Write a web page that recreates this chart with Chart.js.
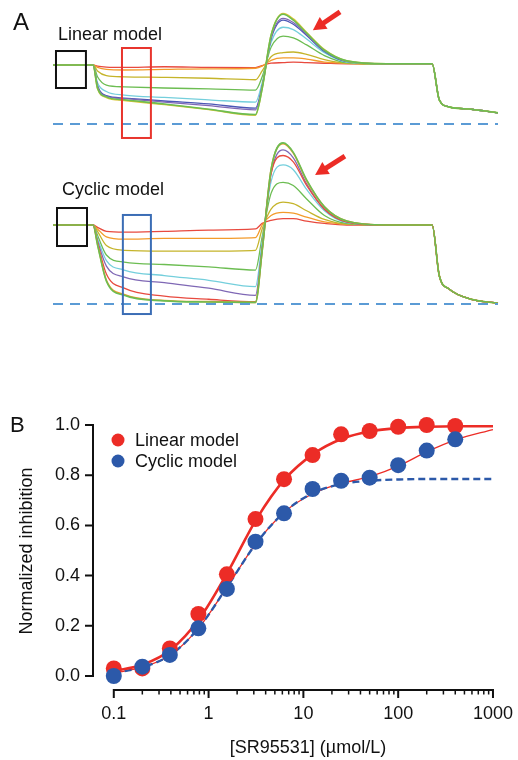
<!DOCTYPE html>
<html>
<head>
<meta charset="utf-8">
<script src="https://cdn.jsdelivr.net/npm/chart.js@4.4.1/dist/chart.umd.min.js"></script>
<style>
  body { margin: 0; background: #fff; }
  #wrap { position: relative; width: 518px; height: 760px; }
  canvas { position: absolute; left: 0; }
</style>
</head>
<body>
<div id="wrap">
  <canvas id="linChart" width="518" height="145" style="top:0px"></canvas>
  <canvas id="cycChart" width="518" height="185" style="top:135px"></canvas>
  <canvas id="doseChart" width="518" height="430" style="top:330px"></canvas>
</div>
<script>
// ---- panel A: current traces (time in % of sweep, current normalised: 1 = baseline, 0 = dashed line)
const tA = [0, 9, 10, 12, 16, 25, 35, 45.5, 47, 49, 51.7, 54, 57, 61, 66, 75, 85.2, 86.8, 89, 94, 100];

const linRed    = [1, 1, 0.98, 0.965, 0.96, 0.97, 0.96, 0.955, 0.99, 1.03, 1.04, 1.05, 1.04, 1.03, 1.02, 1.02, 1.02, 0.41, 0.29, 0.25, 0.19];
const linOrange = [1, 1, 0.96, 0.925, 0.915, 0.925, 0.935, 0.945, 0.98, 1.08, 1.12, 1.12, 1.1, 1.05, 1.03, 1.02, 1.02, 0.41, 0.29, 0.25, 0.19];
const linOlive  = [1, 1, 0.9, 0.82, 0.8, 0.79, 0.775, 0.75, 0.9, 1.14, 1.21, 1.22, 1.18, 1.09, 1.03, 1.02, 1.02, 0.41, 0.29, 0.25, 0.19];
const linGreen  = [1, 1, 0.8, 0.66, 0.63, 0.61, 0.595, 0.575, 0.8, 1.3, 1.49, 1.46, 1.34, 1.16, 1.04, 1.02, 1.02, 0.41, 0.29, 0.25, 0.19];
const linCyan   = [1, 1, 0.7, 0.55, 0.49, 0.45, 0.41, 0.37, 0.7, 1.38, 1.64, 1.6, 1.44, 1.21, 1.05, 1.02, 1.02, 0.41, 0.29, 0.25, 0.19];
const linBlue   = [1, 1, 0.65, 0.48, 0.44, 0.39, 0.34, 0.27, 0.64, 1.44, 1.76, 1.69, 1.5, 1.23, 1.06, 1.02, 1.02, 0.41, 0.29, 0.25, 0.19];
const linPurple = [1, 1, 0.64, 0.47, 0.43, 0.37, 0.31, 0.24, 0.62, 1.46, 1.79, 1.72, 1.52, 1.24, 1.06, 1.02, 1.02, 0.41, 0.29, 0.25, 0.19];
const linDeepA  = [1, 1, 0.6, 0.45, 0.4, 0.33, 0.245, 0.15, 0.6, 1.5, 1.87, 1.78, 1.55, 1.26, 1.07, 1.02, 1.02, 0.41, 0.29, 0.25, 0.19];
const linDeepB  = [1, 1, 0.61, 0.46, 0.41, 0.34, 0.25, 0.16, 0.6, 1.5, 1.86, 1.76, 1.54, 1.25, 1.07, 1.02, 1.02, 0.41, 0.29, 0.25, 0.19];

const cycRed    = [1, 1, 0.97, 0.92, 0.91, 0.92, 0.935, 0.95, 1.02, 1.06, 1.08, 1.08, 1.05, 1.02, 1.0, 1.0, 1.0, 0.36, 0.19, 0.06, 0.01];
const cycOrange = [1, 1, 0.95, 0.85, 0.82, 0.83, 0.83, 0.84, 1.0, 1.12, 1.16, 1.15, 1.1, 1.04, 1.01, 1.0, 1.0, 0.36, 0.19, 0.06, 0.01];
const cycOlive  = [1, 1, 0.92, 0.74, 0.68, 0.67, 0.67, 0.68, 0.95, 1.2, 1.29, 1.27, 1.18, 1.07, 1.01, 1.0, 1.0, 0.36, 0.19, 0.06, 0.01];
const cycGreen  = [1, 1, 0.87, 0.62, 0.53, 0.5, 0.47, 0.43, 0.85, 1.4, 1.54, 1.5, 1.33, 1.12, 1.02, 1.0, 1.0, 0.36, 0.19, 0.06, 0.01];
const cycCyan   = [1, 1, 0.83, 0.55, 0.43, 0.36, 0.3, 0.22, 0.78, 1.55, 1.76, 1.7, 1.45, 1.18, 1.03, 1.0, 1.0, 0.36, 0.19, 0.06, 0.01];
const cycPurple = [1, 1, 0.8, 0.48, 0.34, 0.27, 0.2, 0.11, 0.72, 1.65, 1.95, 1.85, 1.52, 1.2, 1.04, 1.0, 1.0, 0.36, 0.19, 0.06, 0.01];
const cycBlue   = [1, 1, 0.78, 0.38, 0.2, 0.1, 0.06, 0.03, 0.68, 1.65, 1.88, 1.8, 1.5, 1.2, 1.04, 1.0, 1.0, 0.36, 0.19, 0.06, 0.01];
const cycDeepA  = [1, 1, 0.76, 0.3, 0.12, 0.045, 0.03, 0.02, 0.67, 1.7, 2.03, 1.91, 1.56, 1.23, 1.05, 1.0, 1.0, 0.36, 0.19, 0.06, 0.01];
const cycDeepB  = [1, 1, 0.75, 0.29, 0.11, 0.04, 0.025, 0.02, 0.67, 1.7, 2.04, 1.92, 1.57, 1.23, 1.05, 1.0, 1.0, 0.36, 0.19, 0.06, 0.01];

// ---- panel B: dose-response
const conc       = [0.1, 0.2, 0.39, 0.78, 1.56, 3.125, 6.25, 12.5, 25, 50, 100, 200, 400];
const linearInh  = [0.03, 0.03, 0.11, 0.247, 0.405, 0.625, 0.784, 0.88, 0.963, 0.976, 0.993, 1.0, 0.996];
const cyclicInh  = [0.0, 0.037, 0.084, 0.19, 0.347, 0.535, 0.648, 0.745, 0.778, 0.79, 0.84, 0.898, 0.943];
const fitConc    = [0.1, 0.2, 0.4, 0.8, 1.6, 3.2, 6.4, 12.8, 25.6, 51.2, 102.4, 204.8, 409.6, 1000];
const linearFit  = [0.02, 0.045, 0.105, 0.228, 0.415, 0.625, 0.785, 0.885, 0.945, 0.975, 0.988, 0.993, 0.995, 0.995];
const cyclicFit2 = [0.012, 0.035, 0.085, 0.195, 0.36, 0.53, 0.655, 0.728, 0.768, 0.795, 0.838, 0.895, 0.942, 0.982];
const cyclicFit1 = [0.012, 0.035, 0.085, 0.195, 0.36, 0.53, 0.655, 0.73, 0.765, 0.778, 0.783, 0.785, 0.785, 0.785];
const yTickVals  = [0, 0.2, 0.4, 0.6, 0.8, 1.0];
const xTickVals  = [0.1, 1, 10, 100, 1000];

const FONT = '"Liberation Sans", Arial, Helvetica, sans-serif';
Chart.defaults.font.family = FONT;
Chart.defaults.color = '#111';

const RED = '#ec2c26', BLUE = '#2c59a9';
const col = {
  red: '#e84a3f', orange: '#f39b2b', olive: '#c5b42a', green: '#6cbd52',
  cyan: '#74cfdc', blue: '#4b57b6', purple: '#7f68b5', yellow: '#dcc535'
};

const pts = arr => tA.map((t, i) => ({ x: t, y: arr[i] }));
const trace = (arr, c, w) => ({
  data: pts(arr), borderColor: c, borderWidth: w || 1.3, pointRadius: 0,
  cubicInterpolationMode: 'monotone', clip: false
});
const dashedZero = {
  data: [{ x: 0, y: 0 }, { x: 100, y: 0 }], borderColor: '#5b9bd5', borderWidth: 2,
  borderDash: [10, 7], pointRadius: 0, clip: false
};

// boxes, arrow and labels of panel A
const traceMarks = {
  id: 'traceMarks',
  afterDatasetsDraw(chart, args, o) {
    const { ctx, scales: { x, y } } = chart;
    ctx.save();
    ctx.fillStyle = '#111';
    if (o.letter) {
      ctx.font = '24px ' + FONT;
      ctx.fillText(o.letter, 13, 30);
    }
    ctx.font = '18px ' + FONT;
    ctx.fillText(o.label, o.labelPos[0], o.labelPos[1]);
    ctx.lineWidth = 2;
    o.boxes.forEach(b => {
      const x0 = x.getPixelForValue(b.t[0]), x1 = x.getPixelForValue(b.t[1]);
      const y0 = y.getPixelForValue(b.v[0]), y1 = y.getPixelForValue(b.v[1]);
      ctx.strokeStyle = b.color;
      ctx.strokeRect(x0, y0, x1 - x0, y1 - y0);
    });
    const a = o.arrow;
    const ax0 = x.getPixelForValue(a.from[0]), ay0 = y.getPixelForValue(a.from[1]);
    const ax1 = x.getPixelForValue(a.to[0]), ay1 = y.getPixelForValue(a.to[1]);
    const ang = Math.atan2(ay1 - ay0, ax1 - ax0);
    const head = 13, hw = 7;
    const bx = ax1 - head * Math.cos(ang), by = ay1 - head * Math.sin(ang);
    ctx.strokeStyle = RED; ctx.fillStyle = RED; ctx.lineWidth = 5;
    ctx.beginPath(); ctx.moveTo(ax0, ay0); ctx.lineTo(bx + Math.cos(ang), by + Math.sin(ang)); ctx.stroke();
    ctx.beginPath();
    ctx.moveTo(ax1, ay1);
    ctx.lineTo(bx + hw * Math.sin(ang), by - hw * Math.cos(ang));
    ctx.lineTo(bx - hw * Math.sin(ang), by + hw * Math.cos(ang));
    ctx.closePath(); ctx.fill();
    ctx.restore();
  }
};

function traceChart(id, sets, yMin, yMax, marks) {
  return new Chart(document.getElementById(id), {
    type: 'line',
    data: { datasets: sets },
    options: {
      responsive: false, animation: false,
      layout: { padding: { left: 53, right: 20, top: 0, bottom: 0 } },
      plugins: { legend: { display: false }, tooltip: { enabled: false }, traceMarks: marks },
      scales: {
        x: { type: 'linear', min: 0, max: 100, display: false },
        y: { type: 'linear', min: yMin, max: yMax, display: false }
      }
    },
    plugins: [traceMarks]
  });
}

traceChart('linChart', [
  dashedZero,
  trace(linDeepB, col.green, 1.6), trace(linDeepA, col.yellow, 1.6),
  trace(linPurple, col.purple), trace(linBlue, col.blue), trace(linCyan, col.cyan),
  trace(linGreen, col.green), trace(linOlive, col.olive), trace(linOrange, col.orange), trace(linRed, col.red)
], -0.35594, 2.10169, {
  letter: 'A', label: 'Linear model', labelPos: [58, 39.5],
  boxes: [
    { t: [0.67, 7.4], v: [1.237, 0.61], color: '#111' },
    { t: [15.5, 22.0], v: [1.288, -0.237], color: '#e8352d' }
  ],
  arrow: { from: [64.5, 1.9], to: [58.4, 1.59] }
});

traceChart('cycChart', [
  dashedZero,
  trace(cycDeepB, col.green, 1.6), trace(cycDeepA, col.orange, 1.6),
  trace(cycBlue, col.red), trace(cycPurple, col.purple), trace(cycCyan, col.cyan),
  trace(cycGreen, col.green), trace(cycOlive, col.olive), trace(cycOrange, col.orange), trace(cycRed, col.red)
], -0.20253, 2.13924, {
  label: 'Cyclic model', labelPos: [62, 60],
  boxes: [
    { t: [0.9, 7.64], v: [1.215, 0.734], color: '#111' },
    { t: [15.7, 22.0], v: [1.127, -0.127], color: '#3b6db5' }
  ],
  arrow: { from: [65.6, 1.873], to: [58.9, 1.633] }
});

// offset axes, titles and legend of panel B
const doseAxes = {
  id: 'doseAxes',
  beforeDatasetsDraw(chart) {
    const { ctx, chartArea: ca, scales: { x, y } } = chart;
    ctx.save();
    ctx.strokeStyle = '#111'; ctx.lineWidth = 2;
    ctx.beginPath();
    ctx.moveTo(ca.left, y.getPixelForValue(0) + 1);
    ctx.lineTo(ca.left, y.getPixelForValue(1) - 1);
    yTickVals.forEach(v => {
      const py = y.getPixelForValue(v);
      ctx.moveTo(ca.left - 8, py); ctx.lineTo(ca.left, py);
    });
    ctx.moveTo(x.getPixelForValue(0.1) - 1, ca.bottom);
    ctx.lineTo(x.getPixelForValue(1000) + 1, ca.bottom);
    xTickVals.forEach(v => {
      const px = x.getPixelForValue(v);
      ctx.moveTo(px, ca.bottom); ctx.lineTo(px, ca.bottom + 8);
    });
    ctx.stroke();
    ctx.lineWidth = 1.5;
    ctx.beginPath();
    xTickVals.slice(0, -1).forEach(d => {
      for (let k = 2; k <= 9; k++) {
        const px = x.getPixelForValue(d * k);
        ctx.moveTo(px, ca.bottom); ctx.lineTo(px, ca.bottom + 4.5);
      }
    });
    ctx.stroke();
    ctx.restore();
  },
  afterDraw(chart) {
    const { ctx } = chart;
    ctx.save();
    ctx.fillStyle = '#111';
    ctx.font = '22px ' + FONT;
    ctx.textBaseline = 'alphabetic';
    ctx.fillText('B', 10, 102);
    ctx.font = '18px ' + FONT;
    ctx.textAlign = 'center'; ctx.textBaseline = 'middle';
    ctx.fillText('[SR95531] (\u00b5mol/L)', 308, 418);
    ctx.save();
    ctx.translate(27, 221); ctx.rotate(-Math.PI / 2);
    ctx.fillText('Normalized inhibition', 0, 0);
    ctx.restore();
    ctx.textAlign = 'left';
    [['Linear model', RED, 110], ['Cyclic model', BLUE, 131]].forEach(([txt, c, yy]) => {
      ctx.fillStyle = c;
      ctx.beginPath(); ctx.arc(118, yy, 6.5, 0, Math.PI * 2); ctx.fill();
      ctx.fillStyle = '#111';
      ctx.fillText(txt, 135, yy + 1);
    });
    ctx.restore();
  }
};

const xy = (xs, ys) => xs.map((v, i) => ({ x: v, y: ys[i] }));

new Chart(document.getElementById('doseChart'), {
  type: 'line',
  data: {
    datasets: [
      { label: 'Cyclic model', data: xy(conc, cyclicInh), showLine: false, pointRadius: 8,
        pointBackgroundColor: BLUE, pointBorderWidth: 0, clip: false },
      { label: 'Linear model', data: xy(conc, linearInh), showLine: false, pointRadius: 8,
        pointBackgroundColor: RED, pointBorderWidth: 0, clip: false },
      { data: xy(fitConc, linearFit), borderColor: RED, borderWidth: 2.6, pointRadius: 0,
        cubicInterpolationMode: 'monotone', clip: false },
      { data: xy(fitConc, cyclicFit1), borderColor: BLUE, borderWidth: 2.4, borderDash: [7, 4],
        pointRadius: 0, cubicInterpolationMode: 'monotone', clip: false },
      { data: xy(fitConc, cyclicFit2), borderColor: RED, borderWidth: 1.3, pointRadius: 0,
        cubicInterpolationMode: 'monotone', clip: false }
    ]
  },
  options: {
    responsive: false, animation: false,
    layout: { padding: { left: 0, right: 21, top: 95, bottom: 0 } },
    plugins: { legend: { display: false }, tooltip: { enabled: false } },
    scales: {
      x: {
        type: 'logarithmic', min: 0.06035, max: 1000,
        afterBuildTicks: s => { s.ticks = xTickVals.map(v => ({ value: v })); },
        afterFit: s => { s.height = 70; },
        ticks: { font: { size: 18 }, color: '#111', padding: 5, maxRotation: 0, autoSkip: false,
                 callback: v => String(v) },
        grid: { display: false, drawTicks: true, tickLength: 8 },
        border: { display: false }
      },
      y: {
        type: 'linear', min: -0.0558, max: 1.0,
        afterBuildTicks: s => { s.ticks = yTickVals.map(v => ({ value: v })); },
        afterFit: s => { s.width = 93; },
        ticks: { font: { size: 18 }, color: '#111', padding: 5, callback: v => v.toFixed(1) },
        grid: { display: false, drawTicks: true, tickLength: 8 },
        border: { display: false }
      }
    }
  },
  plugins: [doseAxes]
});
</script>
</body>
</html>
